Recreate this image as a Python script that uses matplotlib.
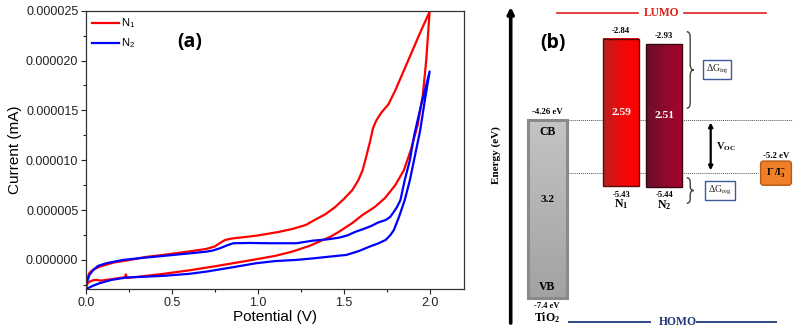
import matplotlib
matplotlib.use("Agg")
import matplotlib.pyplot as plt
import numpy as np
from matplotlib.colors import LinearSegmentedColormap
from matplotlib.patches import Rectangle, PathPatch
from matplotlib.path import Path
from matplotlib.ticker import MultipleLocator, FormatStrFormatter

plt.rcParams.update({
    "font.family": ["Liberation Sans", "DejaVu Sans"],
    "mathtext.fontset": "custom",
    "mathtext.rm": "Liberation Serif",
    "mathtext.bf": "Liberation Serif:bold",
    "mathtext.it": "Liberation Serif:italic",
    "mathtext.sf": "Liberation Sans",
})

########### CYCLIC VOLTAMMETRY (current in 1e-6 units) ###########
# N1: forward sweep 0 -> 2 V, then reverse 2 -> 0 V
n1_fwd_v = [0.0, 0.01, 0.025, 0.04, 0.06, 0.08, 0.10, 0.15, 0.20, 0.227, 0.232, 0.238,
            0.30, 0.45, 0.60, 0.74, 0.85, 0.97, 1.10, 1.20, 1.30, 1.357, 1.42, 1.473,
            1.55, 1.609, 1.68, 1.74, 1.80, 1.85, 1.89, 1.93, 1.96, 1.98, 2.0]
n1_fwd_i = [-2.83, -2.3, -2.15, -2.05, -2.0, -2.07, -2.05, -1.93, -1.8, -1.75, -1.45, -1.8,
            -1.7, -1.4, -1.05, -0.67, -0.35, 0.0, 0.4, 0.83, 1.4, 1.83, 2.3, 2.83,
            3.7, 4.5, 5.3, 6.2, 7.5, 9.0, 11.0, 13.5, 16.5, 20.0, 24.9]
n1_rev_v = [1.95, 1.90, 1.85, 1.80, 1.76, 1.72, 1.69, 1.67, 1.655, 1.63, 1.61, 1.585,
            1.55, 1.50, 1.45, 1.395, 1.33, 1.279, 1.20, 1.12, 1.00, 0.93, 0.85, 0.81,
            0.78, 0.75, 0.70, 0.60, 0.45, 0.35, 0.256, 0.16, 0.081, 0.04, 0.02, 0.004, 0.0]
n1_rev_i = [23.0, 21.0, 19.0, 17.0, 15.6, 14.8, 14.0, 13.2, 12.0, 10.3, 9.0, 8.0,
            7.0, 6.1, 5.3, 4.6, 4.0, 3.5, 3.1, 2.8, 2.45, 2.3, 2.15, 2.0,
            1.7, 1.35, 1.1, 0.85, 0.5, 0.3, 0.0, -0.27, -0.67, -1.0, -1.3, -2.0, -2.5]

# N2
n2_fwd_v = [0.0, 0.04, 0.081, 0.15, 0.236, 0.35, 0.45, 0.60, 0.702, 0.85, 0.992, 1.10,
            1.225, 1.32, 1.419, 1.516, 1.59, 1.65, 1.70, 1.744, 1.772, 1.792, 1.822,
            1.855, 1.885, 1.915, 1.945, 1.972, 2.0]
n2_fwd_i = [-2.93, -2.6, -2.33, -2.0, -1.77, -1.68, -1.6, -1.4, -1.17, -0.75, -0.33, -0.12,
            0.0, 0.15, 0.33, 0.5, 0.9, 1.33, 1.65, 2.0, 2.5, 3.0, 4.33,
            6.0, 8.0, 10.5, 13.0, 16.0, 18.9]
n2_rev_v = [1.95, 1.91, 1.885, 1.855, 1.83, 1.81, 1.792, 1.77, 1.744, 1.70, 1.66, 1.615,
            1.57, 1.52, 1.473, 1.40, 1.32, 1.225, 1.15, 1.07, 0.95, 0.857, 0.82, 0.78,
            0.74, 0.702, 0.60, 0.45, 0.33, 0.217, 0.12, 0.07, 0.043, 0.02, 0.004, 0.0]
n2_rev_i = [15.5, 12.5, 10.0, 8.0, 6.0, 5.3, 4.83, 4.3, 4.0, 3.75, 3.4, 3.1,
            2.83, 2.45, 2.23, 2.05, 1.93, 1.67, 1.67, 1.67, 1.7, 1.67, 1.45, 1.17,
            0.95, 0.83, 0.65, 0.4, 0.2, 0.0, -0.33, -0.6, -1.0, -1.5, -2.33, -2.6]

########### ENERGY LEVELS (eV) ###########
species = ["TiO$_\\mathbf{2}$", "N$_\\mathbf{1}$", "N$_\\mathbf{2}$"]
upper_level = [-4.26, -2.84, -2.93]   # TiO2 CB / dye LUMO
lower_level = [-7.4, -5.43, -5.44]    # TiO2 VB / dye HOMO
gap_label = ["3.2", "2.59", "2.51"]
redox_level = -5.2
##########################################

fig = plt.figure(figsize=(7.97, 3.36), dpi=100)

# ---------------- panel (a) ----------------
ax = fig.add_axes([86 / 797, 1 - 289.3 / 336, 378 / 797, 278.6 / 336])
ax.plot(np.r_[n1_fwd_v, n1_rev_v], np.r_[n1_fwd_i, n1_rev_i] * np.float64(1e-6),
        color="#ff0000", lw=1.6, label="N$_\\mathsf{1}$")
ax.plot(np.r_[n2_fwd_v, n2_rev_v], np.r_[n2_fwd_i, n2_rev_i] * np.float64(1e-6),
        color="#0000ff", lw=1.6, label="N$_\\mathsf{2}$")

ax.set_xlim(0, 2.2)
ax.set_ylim(-2.95e-6, 25e-6)
ax.xaxis.set_major_locator(MultipleLocator(0.5))
ax.xaxis.set_minor_locator(MultipleLocator(0.25))
ax.yaxis.set_major_locator(MultipleLocator(5e-6))
ax.yaxis.set_minor_locator(MultipleLocator(2.5e-6))
ax.yaxis.set_major_formatter(FormatStrFormatter("%.6f"))
ax.tick_params(which="major", direction="out", length=3.5, width=0.8, labelsize=9, pad=2,
               colors="#222222")
ax.tick_params(which="minor", direction="out", length=2.5, width=0.8, colors="#222222")
for s in ax.spines.values():
    s.set_color("#333333")
    s.set_linewidth(0.9)
ax.set_xlabel("Potential (V)", fontsize=11, labelpad=1)
ax.set_ylabel("Current (mA)", fontsize=11, labelpad=3)
ax.legend(loc="upper left", frameon=False, fontsize=8, handlelength=2.4,
          handletextpad=0.2, borderaxespad=0.15, labelspacing=0.55)
ax.text(0.275, 0.888, "(a)", transform=ax.transAxes, fontsize=14, fontweight="bold",
        family="Open Sans", ha="center", va="center")

# ---------------- panel (b) ----------------
bx = fig.add_axes([490 / 797, 0, 307 / 797, 1])
bx.set_xlim(490, 797)
bx.set_ylim(-8.062, -2.157)
bx.axis("off")

serif = dict(family="Liberation Serif", fontweight="bold")
slot_x = [(527.7, 566.7), (603.3, 639.0), (646.0, 682.3)]   # left/right of each column
redox_x = 776


def gradient_box(x0, x1, y0, y1, colors, horizontal, edge, lw):
    ramp = np.linspace(0, 1, 128)
    img = ramp[None, :] if horizontal else ramp[:, None]
    cmap = LinearSegmentedColormap.from_list("g", colors)
    bx.imshow(img, cmap=cmap, extent=(x0, x1, y0, y1), aspect="auto", origin="lower",
              interpolation="bilinear", zorder=3)
    bx.add_patch(Rectangle((x0, y0), x1 - x0, y1 - y0, fill=False, ec=edge, lw=lw, zorder=4))


def brace(x, y_top, y_bot, w, d):
    ym = (y_top + y_bot) / 2
    xm = x + w / 2
    verts = [(x, y_top), (xm, y_top), (xm, y_top - d), (xm, ym + d), (xm, ym), (x + w, ym),
             (xm, ym), (xm, ym - d), (xm, y_bot + d), (xm, y_bot), (x, y_bot)]
    codes = [Path.MOVETO, Path.CURVE3, Path.CURVE3, Path.LINETO, Path.CURVE3, Path.CURVE3,
             Path.CURVE3, Path.CURVE3, Path.LINETO, Path.CURVE3, Path.CURVE3]
    bx.add_patch(PathPatch(Path(verts, codes), fill=False, ec="#404040", lw=1.0, zorder=4))


# energy axis arrow and title
bx.annotate("", xy=(510.7, -2.28), xytext=(510.7, -7.835),
            arrowprops=dict(arrowstyle="-|>", lw=2.6, color="black", mutation_scale=9,
                            shrinkA=0, shrinkB=0))
bx.text(496, -4.88, "Energy (eV)", rotation=90, ha="center", va="center", fontsize=8, **serif)
bx.text(552.7, -2.913, "(b)", fontsize=14, fontweight="bold", family="Open Sans",
        ha="center", va="center")

# LUMO / HOMO guide lines
bx.plot([556.7, 638], [-2.38, -2.38], color="#e0201c", lw=1.2)
bx.plot([684, 766], [-2.38, -2.38], color="#e0201c", lw=1.2)
bx.text(661.5, -2.38, "LUMO", color="#e0201c", fontsize=8.3, ha="center", va="center", **serif)
bx.plot([569, 650], [-7.817, -7.817], color="#2e4a86", lw=1.4)
bx.plot([697, 776], [-7.817, -7.817], color="#2e4a86", lw=1.4)
bx.text(677.5, -7.817, "HOMO", color="#1f3a78", fontsize=8.4, ha="center", va="center", **serif)

# dotted reference levels
bx.plot([slot_x[0][1], 792], [upper_level[0], upper_level[0]], ls=(0, (1, 1)),
        color="#555555", lw=0.7, zorder=1)
bx.plot([slot_x[0][1], 758], [redox_level, redox_level], ls=(0, (1, 1)),
        color="#555555", lw=0.7, zorder=1)

# TiO2 band
x0, x1 = slot_x[0]
gradient_box(x0, x1, lower_level[0], upper_level[0], ["#a2a2a2", "#c4c4c4"], False,
             "#8a8a8a", 2.2)
# dye bars
x0, x1 = slot_x[1]
gradient_box(x0, x1, lower_level[1], upper_level[1], ["#b52222", "#ee0a0a", "#ff0000"], True,
             "#5a0a0a", 1.0)
x0, x1 = slot_x[2]
gradient_box(x0, x1, lower_level[2], upper_level[2], ["#661028", "#8e0a2c", "#a8022f"], True,
             "#3a0512", 1.0)

for k, (x0, x1) in enumerate(slot_x):
    xc = (x0 + x1) / 2
    top, bot = upper_level[k], lower_level[k]
    if k == 0:
        top_txt, bot_txt = f"{top:.2f} eV", f"{bot:.1f} eV"
        bx.annotate("CB", (xc, top), xytext=(0, -8.6), textcoords="offset points",
                    ha="center", va="center", fontsize=8.5, zorder=5, **serif)
        bx.annotate("VB", (xc, bot), xytext=(0, 8), textcoords="offset points",
                    ha="center", va="center", fontsize=8.5, zorder=5, **serif)
        bx.annotate(gap_label[k], (xc, (top + bot) / 2), xytext=(0, 6.5),
                    textcoords="offset points", ha="center", va="center", fontsize=8,
                    zorder=5, **serif)
        bot_off, name_off = -5.5, -14
    else:
        top_txt, bot_txt = f"{top:.2f}", f"{bot:.2f}"
        bx.text(xc, (top + bot) / 2, gap_label[k], color="white", ha="center", va="center",
                fontsize=8.2, zorder=5, **serif)
        bot_off, name_off = -6, -13
    bx.annotate(top_txt, (xc, top), xytext=(0, 5.5), textcoords="offset points",
                ha="center", va="center", fontsize=6.3, **serif)
    bx.annotate(bot_txt, (xc, bot), xytext=(0, bot_off), textcoords="offset points",
                ha="center", va="center", fontsize=6.1, **serif)
    bx.annotate(species[k], (xc, bot), xytext=(0, name_off), textcoords="offset points",
                ha="center", va="center", fontsize=8.5, **serif)

# Voc arrow between TiO2 CB and the redox level
bx.annotate("", xy=(710.7, upper_level[0] - 0.05), xytext=(710.7, redox_level + 0.05),
            arrowprops=dict(arrowstyle="<|-|>", lw=1.6, color="black", mutation_scale=6,
                            shrinkA=0, shrinkB=0))
bx.text(716, (upper_level[0] + redox_level) / 2, "V$_\\mathbf{OC}$", ha="left", va="center",
        fontsize=7.5, **serif)

# redox couple
bx.text(redox_x, redox_level, "I$^\\mathbf{-}$/I$_\\mathbf{3}^\\mathbf{-}$", ha="center",
        va="center", fontsize=7, zorder=5,
        bbox=dict(boxstyle="round,pad=0.55,rounding_size=0.3", fc="#f07f2a", ec="#b85a14",
                  lw=1.0), **serif)
bx.annotate(f"{redox_level:.1f} eV", (redox_x, redox_level), xytext=(0, 12),
            textcoords="offset points", ha="center", va="center", fontsize=6.3, **serif)

# driving forces
brace(686.7, -2.714, -4.06, 7, 0.1)
bx.text(717, -3.382, "ΔG$_\\mathrm{inj}$", ha="center", va="center", fontsize=7,
        family="Liberation Serif", color="#222222",
        bbox=dict(boxstyle="square,pad=0.3", fc="white", ec="#3d5a99", lw=1.0))
brace(686.7, -5.28, -5.73, 7, 0.08)
bx.text(720, -5.505, "ΔG$_\\mathrm{reg}$", ha="center", va="center", fontsize=7,
        family="Liberation Serif", color="#222222",
        bbox=dict(boxstyle="square,pad=0.3", fc="white", ec="#3d5a99", lw=1.0))

fig.savefig("out.png", dpi=100)
